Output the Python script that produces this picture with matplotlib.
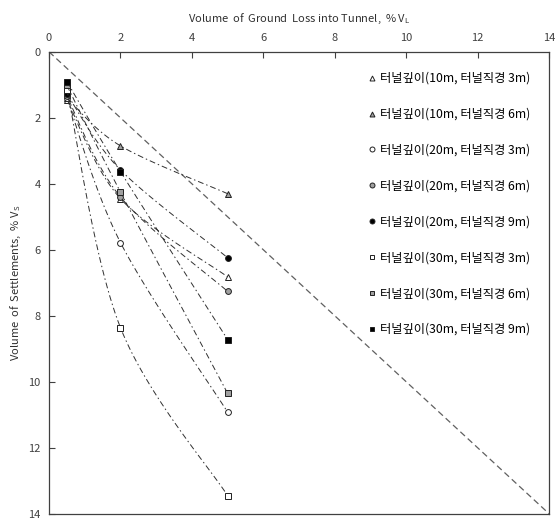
import numpy as np
import matplotlib
matplotlib.use("Agg")
import matplotlib.pyplot as plt

plt.rcParams['font.family'] = ['Noto Sans CJK KR', 'DejaVu Sans']

# Volume of ground loss (% V_L) at which settlements were computed
vl = [0.5, 2.0, 5.0]

labels = [
    '터널깊이(10m, 터널직경 3m)',
    '터널깊이(10m, 터널직경 6m)',
    '터널깊이(20m, 터널직경 3m)',
    '터널깊이(20m, 터널직경 6m)',
    '터널깊이(20m, 터널직경 9m)',
    '터널깊이(30m, 터널직경 3m)',
    '터널깊이(30m, 터널직경 6m)',
    '터널깊이(30m, 터널직경 9m)',
]

# volume of settlements, % V_S
vs_10_3 = [1.45, 4.45, 6.82]
vs_10_6 = [1.40, 2.85, 4.30]
vs_20_3 = [1.40, 5.78, 10.92]
vs_20_6 = [1.35, 4.40, 7.26]
vs_20_9 = [1.28, 3.58, 6.24]
vs_30_3 = [1.15, 8.36, 13.45]
vs_30_6 = [1.02, 4.25, 10.35]
vs_30_9 = [0.90, 3.63, 8.72]

series = [vs_10_3, vs_10_6, vs_20_3, vs_20_6, vs_20_9, vs_30_3, vs_30_6, vs_30_9]

# V_S = V_L reference line
ref_x = [0, 14]
ref_y = [0, 14]

markers = ['^', '^', 'o', 'o', 'o', 's', 's', 's']
fills = ['white', '#a0a0a0', 'white', '#a0a0a0', 'black', 'white', '#a0a0a0', 'black']


def smooth(x, y, n=30):
    # Catmull-Rom style smoothing, like a spreadsheet "smoothed line"
    x = np.asarray(x, float)
    y = np.asarray(y, float)
    px = np.concatenate([[x[0]], x, [x[-1]]])
    py = np.concatenate([[y[0]], y, [y[-1]]])
    xs, ys = [], []
    t = np.linspace(0, 1, n)
    for i in range(1, len(px) - 2):
        b0x, b0y = px[i], py[i]
        b3x, b3y = px[i + 1], py[i + 1]
        b1x = b0x + (px[i + 1] - px[i - 1]) / 6
        b1y = b0y + (py[i + 1] - py[i - 1]) / 6
        b2x = b3x - (px[i + 2] - px[i]) / 6
        b2y = b3y - (py[i + 2] - py[i]) / 6
        bx = (1-t)**3*b0x + 3*(1-t)**2*t*b1x + 3*(1-t)*t**2*b2x + t**3*b3x
        by = (1-t)**3*b0y + 3*(1-t)**2*t*b1y + 3*(1-t)*t**2*b2y + t**3*b3y
        xs.extend(bx)
        ys.extend(by)
    return xs, ys


fig = plt.figure(figsize=(5.57, 5.18), dpi=100)
ax = fig.add_axes([0.088, 0.008, 0.898, 0.892])

ax.plot(ref_x, ref_y, color='#606060', lw=0.9, dashes=(5, 3))

for vals, m, fc, lab in zip(series, markers, fills, labels):
    sx, sy = smooth(vl, vals)
    ax.plot(sx, sy, color='#303030', lw=0.7, dashes=(6, 3, 1.5, 3))
    ax.plot(vl, vals, linestyle='none', marker=m, markersize=4.2,
            markerfacecolor=fc, markeredgecolor='#202020', markeredgewidth=0.7,
            label=lab)

ax.set_xlim(0, 14)
ax.set_ylim(14, 0)
ax.set_xticks(range(0, 15, 2))
ax.set_yticks(range(0, 15, 2))
ax.xaxis.tick_top()
ax.xaxis.set_label_position('top')
ax.tick_params(direction='in', length=4, width=0.8, colors='#404040',
               labelsize=8, pad=6)
for s in ax.spines.values():
    s.set_color('#404040')
    s.set_linewidth(0.9)

ax.set_xlabel('Volume  of  Ground  Loss into Tunnel,  % V$_\\mathregular{L}$',
              fontsize=8, color='#303030', labelpad=8)
ax.set_ylabel('Volume  of  Settlements,  % V$_\\mathregular{S}$',
              fontsize=8, color='#303030', labelpad=4)

leg = ax.legend(loc='upper left', bbox_to_anchor=(0.616, 0.98), frameon=False,
                fontsize=8.8, labelspacing=1.87, handlelength=0.6,
                handletextpad=0.4, markerscale=0.85)

plt.savefig('out.png', dpi=100)
